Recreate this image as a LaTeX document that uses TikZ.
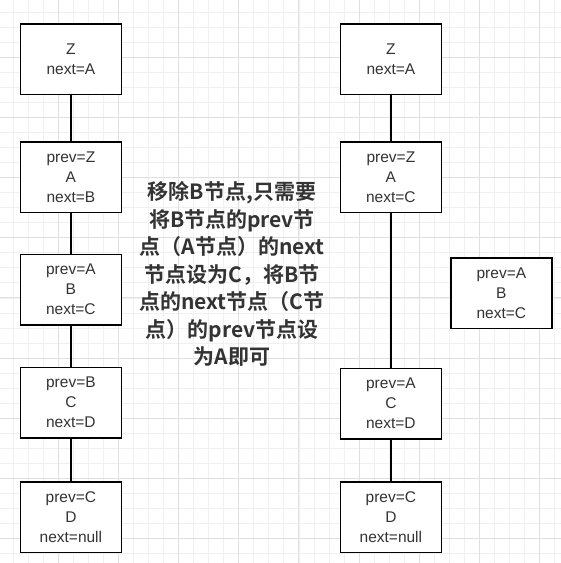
\documentclass[tikz,border=0pt]{standalone}
\usepackage{fontspec}
\setmainfont{Liberation Sans}
\newfontfamily\cjkbold{Noto Sans CJK SC Bold}
\begin{document}
\begin{tikzpicture}[x=1pt,y=-1pt,
  nodebox/.style={draw=black,line width=1.8pt,fill=white,minimum width=101pt,minimum height=70.5pt,
    inner sep=0pt,align=center,text=txtgray,font=\fontsize{15.5}{20}\selectfont,anchor=north west},
  link/.style={draw=black,line width=1.8pt}]
\definecolor{txtgray}{HTML}{333333}
\definecolor{gridminor}{HTML}{F0F0F0}
\definecolor{gridmajor}{HTML}{E0E0E0}
\useasboundingbox (0,0) rectangle (561,563);
\fill[white] (0,0) rectangle (561,563);
% grid
\foreach \i in {0,...,36} {
  \pgfmathsetmacro{\gx}{13+15.05*\i}
  \draw[gridminor,line width=0.9pt] (\gx,0) -- (\gx,563);
  \pgfmathsetmacro{\gy}{12+15.05*\i}
  \draw[gridminor,line width=0.9pt] (0,\gy) -- (561,\gy);
}
\foreach \i in {0,...,9} {
  \pgfmathsetmacro{\gx}{58+60.2*\i}
  \draw[gridmajor,line width=0.9pt] (\gx,0) -- (\gx,563);
  \pgfmathsetmacro{\gy}{57+60.2*\i}
  \draw[gridmajor,line width=0.9pt] (0,\gy) -- (561,\gy);
}
% left column
\node[nodebox] (lz) at (19.5,23) {Z\\next=A};
\node[nodebox] (la) at (19.5,141) {prev=Z\\A\\next=B};
\node[nodebox] (lb) at (19.5,253.5) {prev=A\\B\\next=C};
\node[nodebox] (lc) at (19.5,366.5) {prev=B\\C\\next=D};
\node[nodebox] (ld) at (19.5,481) {prev=C\\D\\next=null};
\draw[link] (lz) -- (la);
\draw[link] (la) -- (lb);
\draw[link] (lb) -- (lc);
\draw[link] (lc) -- (ld);
% right column
\node[nodebox] (rz) at (339.5,23) {Z\\next=A};
\node[nodebox] (ra) at (339.5,141) {prev=Z\\A\\next=C};
\node[nodebox] (rc) at (339.5,367.5) {prev=A\\C\\next=D};
\node[nodebox] (rd) at (339.5,481) {prev=C\\D\\next=null};
\node[nodebox] (rb) at (450,257) {prev=A\\B\\next=C};
\draw[link] (rz) -- (ra);
\draw[link] (ra) -- (rc);
\draw[link] (rc) -- (rd);
% explanation
\node[align=center,text=txtgray,inner sep=0pt,font=\cjkbold\fontsize{21}{27.5}\selectfont] (note) at (232,274)
 {移除B节点,只需要\\将B节点的prev节\\点（A节点）的next\\节点设为C，将B节\\点的next节点（C节\\点）的prev节点设\\为A即可};
\end{tikzpicture}
\end{document}
